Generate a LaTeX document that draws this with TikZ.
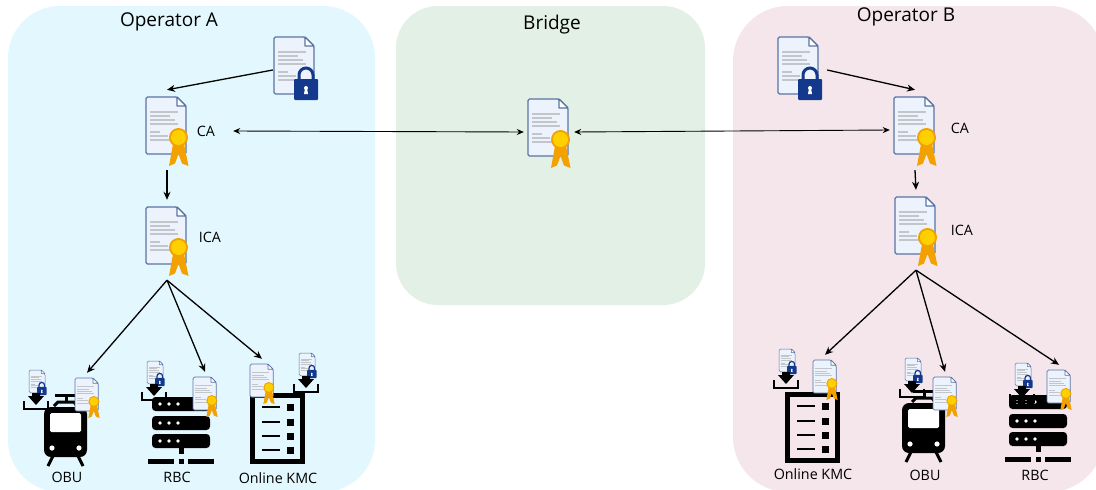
\documentclass[tikz,border=0pt]{standalone}
\usepackage{fontspec}
\setmainfont{Open Sans}
\usetikzlibrary{calc,arrows.meta}
\definecolor{panelA}{HTML}{E3F8FE}
\definecolor{panelBridge}{HTML}{E2F0E5}
\definecolor{panelB}{HTML}{F4E6EB}
\definecolor{docedge}{HTML}{5A74A6}
\definecolor{docfill}{HTML}{ECF3FC}
\definecolor{docline}{HTML}{C2C6CB}
\definecolor{lockblue}{HTML}{14398C}
\definecolor{sealorange}{HTML}{F2A100}
\definecolor{sealyellow}{HTML}{FFD000}
\tikzset{
  certbox/.style={minimum width=50pt,minimum height=80pt,inner sep=0pt},
  smallbox/.style={minimum width=24pt,minimum height=50pt,inner sep=0pt},
  title/.style={inner sep=0pt,font=\fontsize{19}{21}\selectfont},
  tag/.style={inner sep=0pt,font=\fontsize{14.3}{16}\selectfont},
  flow/.style={line width=1.3pt,black,-{Stealth[length=8pt,width=7pt]}},
  link/.style={line width=.9pt,black,{Stealth[length=7pt,width=6pt]}-{Stealth[length=7pt,width=6pt]}},
  pics/plaindoc/.style={code={
    \draw[line width=#1,docedge,fill=docfill,rounded corners=1.5pt] (0,0) -- (31,0) -- (40,9) -- (40,57) -- (0,57) -- cycle;
    \draw[line width=#1,docedge,fill=white,line join=round] (31,0) -- (31,9) -- (40,9) -- cycle;
    \foreach \yy/\xx in {15/32,19/24,23/29,27/32,35/14,39/22,43/26} {
      \draw[line width=#1,docline] (4,\yy) -- (\xx,\yy);}
  }},
  pics/certdoc/.style={code={
    \pic[transform shape] {plaindoc=#1};
    \fill[sealorange] (27,47) -- (23,69) -- (29,66.5) -- (32.5,57) -- (36,66.5) -- (42.5,69) -- (38,47) -- cycle;
    \fill[sealorange] (32.5,40.5) circle (9.5);
    \fill[sealyellow] (32.5,40.5) circle (7.5);
  }},
  pics/lockdoc/.style={code={
    \pic[transform shape] {plaindoc=#1};
    \draw[line width=2.5*#1,lockblue] (25,44) -- (25,38) arc (180:360:7) -- (39,44);
    \fill[lockblue,rounded corners=1pt] (20,42) rectangle (44,63);
    \fill[white] (32,51) circle (2);
    \fill[white] (31,51) -- (33,51) -- (34,57) -- (30,57) -- cycle;
  }},
  pics/dlbox/.style={code={
    \pic[scale=.4] at (5,-31) {lockdoc=.5pt};
    \draw[line width=2pt,black] (0,0) -- (0,8) -- (24,8) -- (24,0);
    \fill[black] (8,-8) -- (16,-8) -- (16,-5) -- (20,-5) -- (12,4) -- (4,-5) -- (8,-5) -- cycle;
  }},
  pics/train/.style={code={
    \draw[line width=3pt,black] (10,-1) -- (14,-5) -- (30,-5) -- (33,-1);
    \draw[line width=3pt,black] (22,-5) -- (22,-11.5);
    \draw[line width=3pt,black] (11,-11.5) -- (31,-11.5);
    \draw[line width=3pt,black] (9,49) -- (4,59);
    \draw[line width=3pt,black] (34,49) -- (39,59);
    \fill[black,rounded corners=7pt] (0,0) rectangle (43,50);
    \fill[white,rounded corners=1.5pt] (6,6) rectangle (37,25);
    \fill[white] (8,41) circle (2.6);
    \fill[white] (35,41) circle (2.6);
  }},
  pics/server/.style={code={
    \foreach \yy in {0,19,37} {
      \fill[black,rounded corners=3.5pt] (0,\yy) rectangle (58,\yy+14);
      \foreach \xx in {8,17,26} {
        \fill[white] (\xx,\yy+7) circle (1.8);}}
    \fill[black] (26.5,50) rectangle (31.5,57);
    \fill[black] (-4,61.5) rectangle (22,67);
    \fill[black] (26.5,61.5) rectangle (31.5,67);
    \fill[black] (36,61.5) rectangle (62,67);
  }},
  pics/kmclist/.style={code={
    \draw[line width=5pt,black] (2.5,2.5) rectangle (52.5,68.5);
    \foreach \yy in {14,29,43,57} {
      \draw[line width=2.5pt,black] (12,\yy) -- (30,\yy);
      \fill[black] (37,\yy-3.5) rectangle (44,\yy+3.5);}
  }},
}
\begin{document}
\begin{tikzpicture}[x=1pt,y=-1pt]
  \clip (0,0) rectangle (1096,490);
  \fill[white] (0,0) rectangle (1096,490);
  % panels
  \fill[panelA,rounded corners=52pt] (8,6) rectangle (375,492);
  \fill[panelBridge,rounded corners=42pt] (396,6) rectangle (705,305);
  \fill[panelB,rounded corners=55pt] (733,6) rectangle (1104,492);
  \node[title] (titleA) at (169,22) {Operator A};
  \node[title] (titleBridge) at (552,25) {Bridge};
  \node[title] (titleB) at (906,17) {Operator B};

  % devices
  \pic at (44,407) {train};
  \pic at (152,397) {server};
  \pic at (250,393) {kmclist};
  \pic at (785,392) {kmclist};
  \pic at (902,403) {train};
  \pic at (1009,395) {server};
  \foreach \x/\y in {24/401,142/392,294/384,774/380,900/389,1010/394} {
    \pic at (\x,\y) {dlbox};}

  % root keys
  \foreach \name/\x in {keyA/298,keyB/802} {
    \node[certbox] (\name) at (\x,70) {};
    \pic at ($(\name)+(-24,-33)$) {lockdoc=1.2pt};}

  % certificates
  \foreach \name/\x/\y in {caA/167/130,icaA/167/240,caBridge/549/132,caB/915/130,icaB/916/230} {
    \node[certbox] (\name) at (\x,\y) {};
    \pic at ($(\name)+(-21,-33)$) {certdoc=1.2pt};}
  \foreach \name/\x/\y in {ObuA/87/398,RbcA/205/397,KmcA/262/384,KmcB/825/380,ObuB/945/397,RbcB/1059/390} {
    \node[smallbox] (cert\name) at (\x,\y) {};
    \pic[scale=.58] at ($(cert\name)+(-12,-20)$) {certdoc=.7pt};}

  % labels
  \node[tag,minimum width=54pt] (tagCaA) at (206,131) {CA};
  \node[tag] (tagIcaA) at (210,237) {ICA};
  \node[tag] (tagCaB) at (960,128) {CA};
  \node[tag] (tagIcaB) at (962,230) {ICA};
  \node[tag] (tagObuA) at (67,477) {OBU};
  \node[tag] (tagRbcA) at (177,477) {RBC};
  \node[tag] (tagKmcA) at (278,478) {Online KMC};
  \node[tag] (tagKmcB) at (813,474) {Online KMC};
  \node[tag] (tagObuB) at (925,475) {OBU};
  \node[tag] (tagRbcB) at (1035,475) {RBC};

  % connectors
  \draw[flow] (keyA.west) -- (caA.north);
  \draw[flow] (caA.south) -- (icaA.north);
  \draw[flow] (icaA.south) -- (certObuA.north);
  \draw[flow] (icaA.south) -- (certRbcA.north);
  \draw[flow] (icaA.south) -- (certKmcA.north);
  \draw[flow] (keyB.east) -- (caB.north);
  \draw[flow] (caB.south) -- (icaB.north);
  \draw[flow] (icaB.south) -- (certKmcB.north);
  \draw[flow] (icaB.south) -- (certObuB.north);
  \draw[flow] (icaB.south) -- (certRbcB.north);
  \draw[link] (tagCaA.east) -- (caBridge.west);
  \draw[link] (caBridge.east) -- (caB.west);
\end{tikzpicture}
\end{document}
